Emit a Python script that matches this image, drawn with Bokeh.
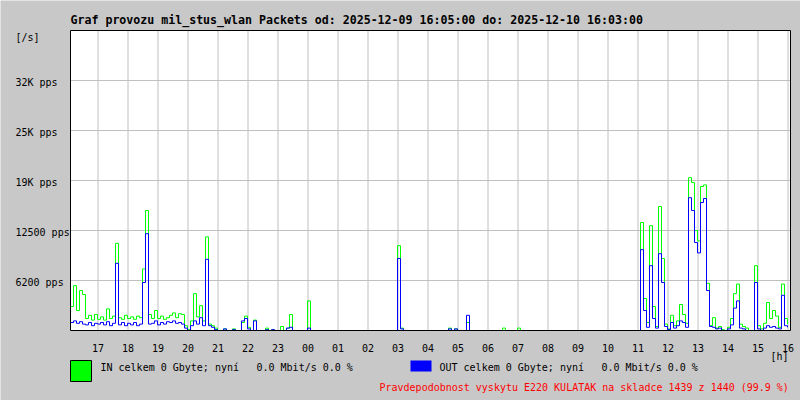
from bokeh.plotting import figure
from bokeh.models import Range1d
from bokeh.core.properties import value
from bokeh.embed import file_html
from bokeh.resources import INLINE

# ---- data (packets per second, one sample every 6 minutes from 2025-12-09 16:05) ----
SAMPLE_MIN = 6

in_pps = [
    3000, 5600, 2500, 5000, 4500, 1500, 1900, 1300, 2000, 1400,
    1700, 1300, 2700, 1500, 1800, 10900, 1600, 1400, 1900, 1500,
    1700, 1400, 1800, 1600, 7700, 15000, 2000, 1500, 2500, 1500,
    1800, 1400, 1600, 1900, 2200, 1600, 2100, 2000, 600, 100,
    1200, 4600, 1700, 3100, 1200, 11700, 800, 600, 300, 0,
    0, 200, 0, 0, 200, 0, 0, 1000, 1800, 400,
    0, 1300, 0, 0, 0, 300, 0, 100, 0, 0,
    500, 0, 300, 2000, 0, 0, 0, 0, 0, 3700,
    0, 0, 0, 0, 0, 0, 0, 0, 0, 0,
    0, 0, 0, 0, 0, 0, 0, 0, 0, 0,
    0, 0, 0, 0, 0, 0, 0, 0, 0, 10600,
    300, 0, 0, 0, 0, 0, 0, 0, 0, 0,
    0, 0, 0, 0, 0, 0, 300, 0, 200, 0,
    0, 0, 1000, 0, 0, 0, 0, 0, 0, 0,
    0, 0, 0, 0, 300, 0, 0, 0, 0, 300,
    0, 0, 0, 0, 0, 0, 0, 0, 0, 0,
    0, 0, 0, 0, 0, 0, 0, 0, 0, 0,
    0, 0, 0, 0, 0, 0, 0, 0, 0, 0,
    0, 0, 0, 0, 0, 0, 0, 0, 0, 0,
    13500, 4000, 1000, 13100, 3000, 500, 15500, 9000, 800, 200,
    1900, 600, 1200, 3250, 2000, 900, 19100, 18500, 12500, 11200,
    18000, 18200, 5900, 600, 1600, 300, 500, 100, 0, 400,
    1500, 4600, 5800, 800, 500, 300, 0, 0, 8100, 600,
    200, 900, 3500, 1500, 2500, 1800, 400, 5800, 1500, 800,
]

out_pps = [
    1000, 1200, 900, 1100, 800, 700, 1000, 600, 900, 800,
    1000, 700, 1100, 600, 900, 8400, 700, 1000, 600, 900,
    700, 1000, 600, 800, 6000, 12100, 800, 900, 1200, 700,
    1000, 800, 1100, 1000, 1200, 900, 1000, 800, 300, 0,
    600, 1200, 800, 1600, 600, 8900, 600, 400, 100, 0,
    0, 200, 0, 0, 100, 0, 0, 1200, 1500, 200,
    0, 1200, 0, 0, 0, 100, 0, 100, 0, 0,
    0, 0, 300, 400, 0, 0, 0, 0, 0, 300,
    0, 0, 0, 0, 0, 0, 0, 0, 0, 0,
    0, 0, 0, 0, 0, 0, 0, 0, 0, 0,
    0, 0, 0, 0, 0, 0, 0, 0, 0, 9000,
    200, 0, 0, 0, 0, 0, 0, 0, 0, 0,
    0, 0, 0, 0, 0, 0, 200, 0, 200, 0,
    0, 0, 1900, 0, 0, 0, 0, 0, 0, 0,
    0, 0, 0, 0, 0, 0, 0, 0, 0, 0,
    0, 0, 0, 0, 0, 0, 0, 0, 0, 0,
    0, 0, 0, 0, 0, 0, 0, 0, 0, 0,
    0, 0, 0, 0, 0, 0, 0, 0, 0, 0,
    0, 0, 0, 0, 0, 0, 0, 0, 0, 0,
    10100, 2500, 400, 8100, 1500, 300, 9600, 6000, 500, 100,
    1000, 300, 600, 1200, 1000, 400, 16600, 15000, 11000, 9700,
    16000, 16500, 5000, 500, 400, 200, 300, 0, 0, 200,
    700, 2800, 3700, 300, 200, 0, 0, 0, 6000, 200,
    0, 300, 600, 400, 500, 300, 200, 4400, 600, 400,
]

hour_labels = ["17", "18", "19", "20", "21", "22", "23", "00", "01", "02", "03", "04",
               "05", "06", "07", "08", "09", "10", "11", "12", "13", "14", "15", "16"]
hour_ticks = [55 + 60 * k for k in range(len(hour_labels))]   # minutes after 16:05

y_ticks = [6250, 12500, 18750, 25000, 31250]
y_labels = ["6200 pps", "12500 pps", "19K pps", "25K pps", "32K pps"]

title_text = "Graf provozu mil_stus_wlan Packets od: 2025-12-09 16:05:00 do: 2025-12-10 16:03:00"
in_legend_a = "IN celkem 0 Gbyte; nyní"
out_legend_a = "OUT celkem 0 Gbyte; nyní"
in_legend_b = "0.0 Mbit/s 0.0 %"
out_legend_b = "0.0 Mbit/s 0.0 %"
note_text = "Pravdepodobnost vyskytu E220 KULATAK na skladce 1439 z 1440 (99.9 %)"

X_MAX = 1440     # minutes shown
Y_MAX = 37500    # pps at top of graph

t_min = [i * SAMPLE_MIN for i in range(len(in_pps))]

BG = "#c8c8c8"
GRID = "#c0c0c0"
FONT = "DejaVu Sans Mono"

# graph area occupies pixels x 70..790, y 30..330 of an 800x400 canvas
def dx(px):
    return (px - 70) * X_MAX / 720.0

def dy(py):
    return (330 - py) * Y_MAX / 300.0

p = figure(width=800, height=400, output_backend="svg", toolbar_location=None,
           x_range=Range1d(dx(0), dx(800)), y_range=Range1d(dy(400), dy(0)),
           x_axis_location=None, y_axis_location=None,
           min_border=0, outline_line_color=None,
           background_fill_color=BG, border_fill_color=BG)
p.grid.visible = False

# white graph area
p.quad(left=[0], right=[X_MAX], bottom=[0], top=[Y_MAX], fill_color="white", line_color=None)

# grid lines
p.segment(x0=hour_ticks, x1=hour_ticks, y0=[0] * len(hour_ticks), y1=[Y_MAX] * len(hour_ticks),
          line_color=GRID, line_width=1)
p.segment(x0=[0] * len(y_ticks), x1=[X_MAX] * len(y_ticks), y0=y_ticks, y1=y_ticks,
          line_color=GRID, line_width=1)

# series
p.step(t_min, in_pps, mode="after", line_color="#00ff00", line_width=1)
p.step(t_min, out_pps, mode="after", line_color="#0000ff", line_width=1)

# frame
p.quad(left=[0], right=[X_MAX], bottom=[0], top=[Y_MAX], fill_color=None,
       line_color="black", line_width=1)

# tick labels
p.text(x=hour_ticks, y=[dy(347)] * len(hour_ticks), text=hour_labels,
       text_font=value(FONT), text_font_size="10px", text_color="black",
       text_align="center", text_baseline="middle")
p.text(x=[dx(15)] * len(y_ticks), y=y_ticks, y_offset=2, text=y_labels,
       text_font=value(FONT), text_font_size="10px", text_color="black",
       text_align="left", text_baseline="middle")

def add_text(txt, px, py, size="10px", color="black", bold=False):
    p.text(x=[dx(px)], y=[dy(py)], text=[txt], text_font=value(FONT), text_font_size=size,
           text_color=color, text_font_style="bold" if bold else "normal",
           text_align="left", text_baseline="middle")

add_text(title_text, 70, 19, size="11.6px", bold=True)
add_text("[/s]", 15, 37)
add_text("[h]", 770, 356)

# legend boxes
p.quad(left=[dx(70)], right=[dx(91)], top=[dy(360)], bottom=[dy(381)],
       fill_color="#00ff00", line_color="black", line_width=1)
p.quad(left=[dx(410)], right=[dx(431)], top=[dy(360)], bottom=[dy(371)],
       fill_color="#0000ff", line_color=None)
add_text(in_legend_a, 100, 367)
add_text(in_legend_b, 256, 367)
add_text(out_legend_a, 439, 367)
add_text(out_legend_b, 601, 367)
add_text(note_text, 379, 387, color="#ff0000")

open("out.html", "w").write(file_html(p, INLINE))
